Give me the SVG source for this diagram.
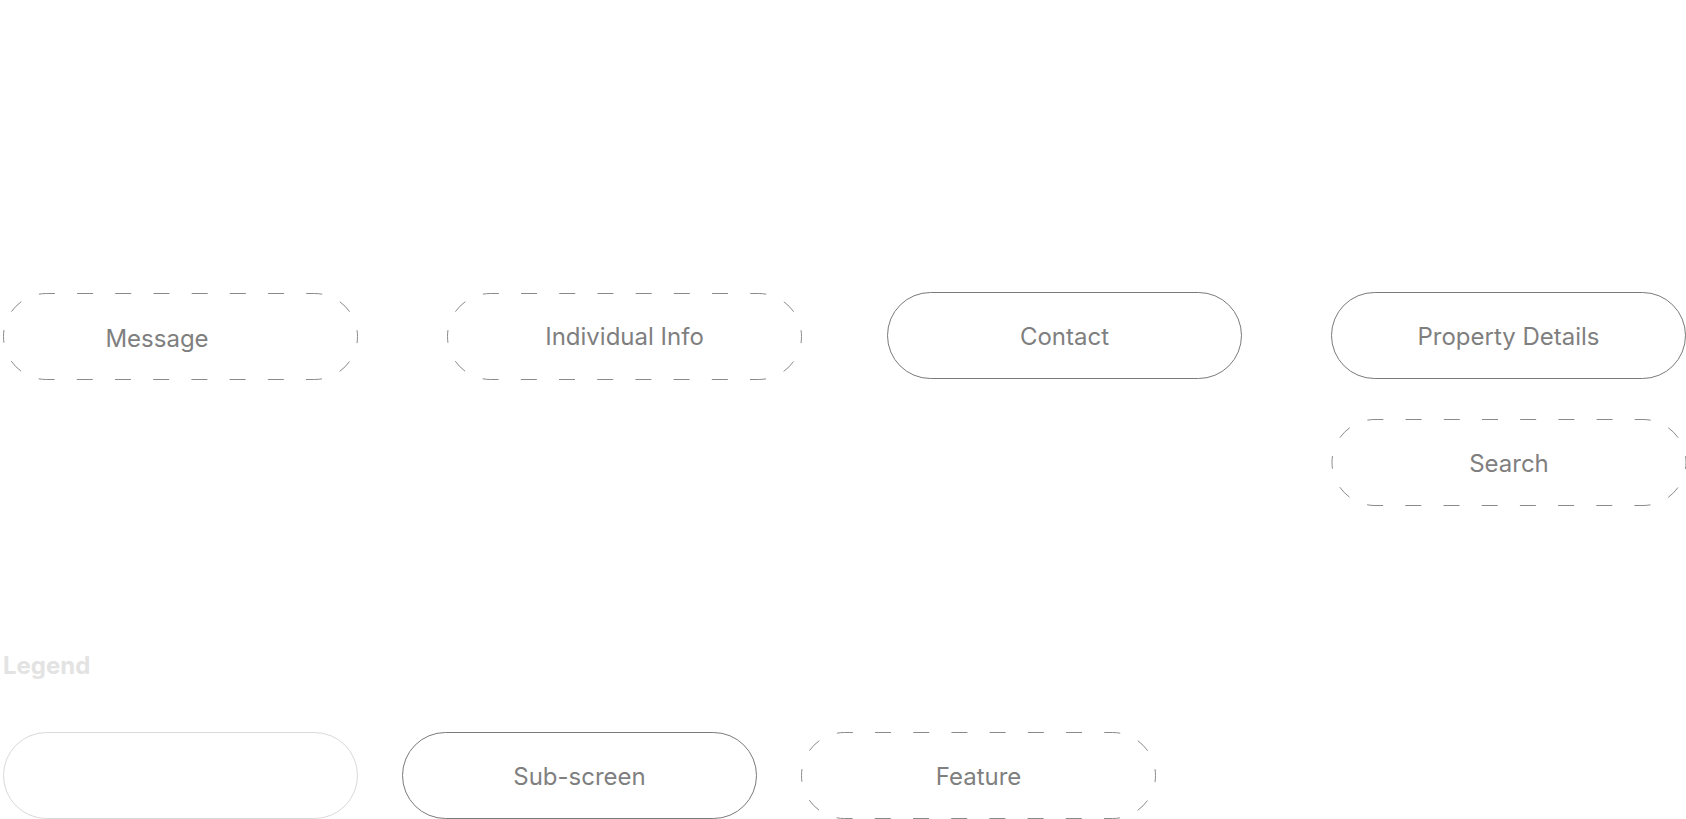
<svg xmlns="http://www.w3.org/2000/svg" width="1686" height="819" viewBox="0 0 1686 819">
<style>
.pill{fill:#fff;stroke:#7a7a7a;stroke-width:1}
.dash{fill:#fff;stroke:#8a8a8a;stroke-width:1;stroke-dasharray:6.5 20 14 19.3 16 22.2 16 22.2 16 22.2 16 22.2 16 22.2 16 22.2 16 22.2 16 19.3 14 20 13 20 14 19.3 16 22.2 16 22.2 16 22.2 16 22.2 16 22.2 16 22.2 16 22.2 16 19.3 14 20 6.5 100}
.legendpill{fill:#fff;stroke:#d9d9d9;stroke-width:1}
.lbl{font-family:Inter,"Liberation Sans",sans-serif;font-size:24px;fill:#7f7f7f;text-anchor:middle}
.title{font-family:Inter,"Liberation Sans",sans-serif;font-size:24px;font-weight:700;fill:#e3e3e3}
</style>
<defs>
<path id="pillshape" d="M0 43A43 43 0 0 1 43 0H311A43 43 0 0 1 354 43A43 43 0 0 1 311 86H43A43 43 0 0 1 0 43Z"/>
</defs>
<rect width="1686" height="819" fill="#fff"/>
<g id="connectors"></g>
<g id="message">
<use href="#pillshape" class="dash" x="3.5" y="293.5"/>
<text class="lbl" x="157" y="346.5">Message</text>
</g>
<g id="individual-info">
<use href="#pillshape" class="dash" x="447.5" y="293.5"/>
<text class="lbl" x="624.5" y="345">Individual Info</text>
</g>
<g id="contact">
<use href="#pillshape" class="pill" x="887.5" y="292.5"/>
<text class="lbl" x="1064.5" y="344.5">Contact</text>
</g>
<g id="property-details">
<use href="#pillshape" class="pill" x="1331.5" y="292.5"/>
<text class="lbl" x="1508.5" y="344.5">Property Details</text>
</g>
<g id="search">
<use href="#pillshape" class="dash" x="1332" y="419.5"/>
<text class="lbl" x="1509" y="471.5">Search</text>
</g>
<g id="legend">
<text class="title" x="3" y="674">Legend</text>
<g id="legend-screen">
<use href="#pillshape" class="legendpill" x="3.5" y="732.5"/>
</g>
<g id="legend-subscreen">
<use href="#pillshape" class="pill" x="402.5" y="732.5"/>
<text class="lbl" x="579.5" y="784.5">Sub-screen</text>
</g>
<g id="legend-feature">
<use href="#pillshape" class="dash" x="801.5" y="732.5"/>
<text class="lbl" x="978.5" y="784.5">Feature</text>
</g>
</g>
</svg>
